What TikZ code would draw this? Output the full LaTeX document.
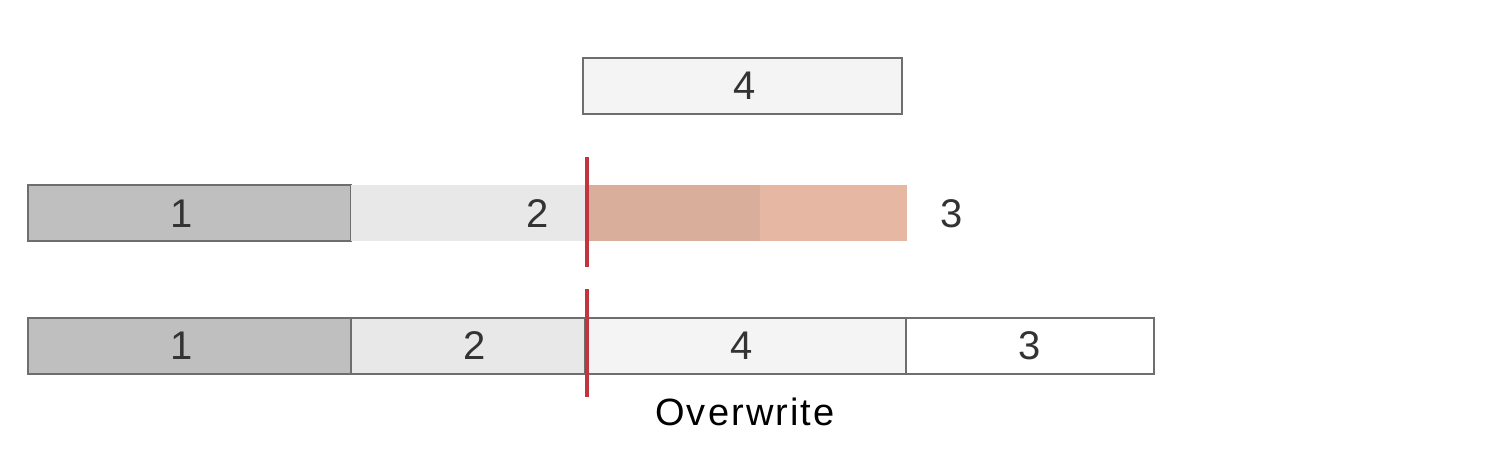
\documentclass[tikz,border=0pt]{standalone}
\usepackage{fontspec}
\setmainfont{Liberation Sans}
\newfontfamily\wideface[LetterSpace=5.5]{Liberation Sans}
\usetikzlibrary{positioning}

\definecolor{segdark}{HTML}{BFBFBF}
\definecolor{segmid}{HTML}{E8E8E8}
\definecolor{segpale}{HTML}{F4F4F4}
\definecolor{segedge}{HTML}{6E6E6E}
\definecolor{salmon}{HTML}{E6B7A3}
\definecolor{overlap}{HTML}{D9AE9B}
\definecolor{cutred}{HTML}{C2343E}
\definecolor{digit}{HTML}{333333}

\tikzset{
  seg/.style={draw=segedge, line width=1.2pt, minimum height=56pt, inner sep=0pt, outer sep=0pt},
  bare/.style={minimum height=56pt, inner sep=0pt, outer sep=0pt},
  num/.style={text=digit, inner sep=0pt},
  cutline/.style={cutred, line width=4.5pt}
}

\begin{document}
\begin{tikzpicture}[x=1pt,y=-1pt,font=\fontsize{40}{48}\selectfont]
\useasboundingbox (0,0) rectangle (1496,452);

% incoming write
\node[seg, fill=segpale, minimum width=319pt, anchor=north west] (w4) at (583,58) {};
\node[num] at (745,86) {4};

% before the write
\node[seg, fill=segdark, minimum width=323pt, anchor=north west] (a1) at (28,185) {};
\node[bare, fill=segmid, minimum width=234pt, right=0pt of a1] (a2) {};
\node[bare, fill=overlap, minimum width=175pt, right=0pt of a2] (a3) {};
\node[bare, fill=salmon, minimum width=147pt, right=0pt of a3] (a4) {};
\node[num] (l1) at (182,214) {1};
\node[num] (l2) at (538,214) {2};
\node[num] (l3) at (952,214) {3};

% after the write
\node[seg, fill=segdark, minimum width=323pt, anchor=north west] (b1) at (28,318) {};
\node[seg, fill=segmid, minimum width=234pt, right=0pt of b1] (b2) {};
\node[seg, fill=segpale, minimum width=321pt, right=0pt of b2] (b4) {};
\node[seg, fill=white, minimum width=248pt, right=0pt of b4] (b3) {};
\node[num] at (182,346) {1};
\node[num] at (475,346) {2};
\node[num] at (742,346) {4};
\node[num] at (1030,346) {3};

% write offset
\coordinate (c1) at (587,157);
\coordinate (c2) at (587,267);
\coordinate (c3) at (587,289);
\coordinate (c4) at (587,397);
\draw[cutline] (c1) -- (c2);
\draw[cutline] (c3) -- (c4);

\node[inner sep=0pt, font=\wideface\fontsize{38}{44}\selectfont] (ow) at (745,412) {Overwrite};
\end{tikzpicture}
\end{document}
